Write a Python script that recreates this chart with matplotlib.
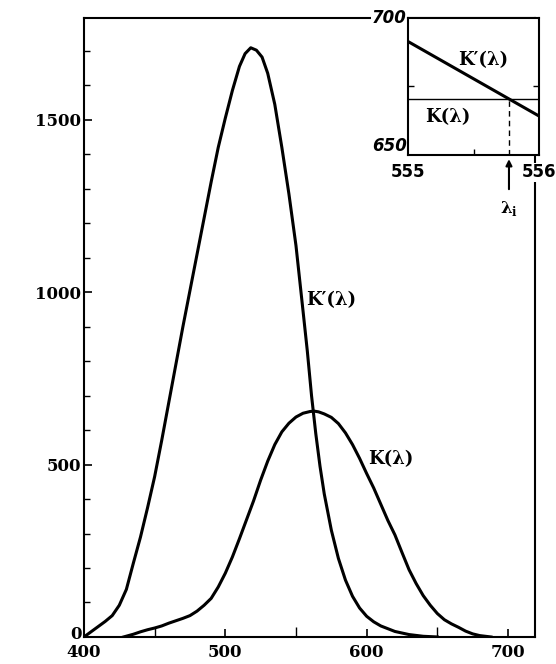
import matplotlib
matplotlib.use('Agg')
import matplotlib.pyplot as plt
from matplotlib.ticker import MultipleLocator, FixedLocator, FuncFormatter

# K'(lambda): scotopic curve
kp_wl = [400, 405, 410, 415, 420, 425, 430, 435, 440, 445, 450, 455, 460, 465,
         470, 475, 480, 485, 490, 495, 500, 505, 510, 514, 518, 522, 526, 530,
         535, 540, 545, 550, 555, 558, 561, 564, 567, 570, 575, 580, 585, 590,
         595, 600, 605, 610, 620, 630, 640, 650]
kp_val = [0, 15, 30, 45, 62, 92, 138, 215, 290, 375, 465, 570, 680, 790,
          900, 1005, 1110, 1215, 1320, 1420, 1505, 1585, 1655, 1692, 1709, 1702, 1682, 1635,
          1545, 1420, 1285, 1135, 945, 830, 700, 590, 495, 415, 310, 228, 165, 118,
          84, 60, 44, 32, 16, 7, 2, 0]

# K(lambda): photopic curve
k_wl = [428, 435, 440, 445, 450, 455, 460, 465, 470, 475, 480, 485, 490, 495,
        500, 505, 510, 515, 520, 525, 530, 535, 540, 545, 550, 555, 560, 563,
        566, 570, 575, 580, 585, 590, 595, 600, 605, 610, 615, 620, 625, 630,
        635, 640, 645, 650, 655, 660, 665, 670, 675, 680, 688]
k_val = [0, 8, 15, 21, 26, 32, 40, 47, 54, 62, 75, 92, 112, 145,
         185, 232, 285, 340, 395, 455, 510, 558, 595, 620, 638, 649, 654, 655,
         653, 647, 637, 619, 592, 558, 518, 474, 432, 385, 338, 296, 245, 195,
         155, 120, 92, 68, 50, 38, 28, 17, 9, 4, 0]

# inset (zoom 555..556 nm)
inset_wl = [555, 556]
inset_kp = [691.4, 664.2]
inset_k = [670.4, 670.4]
lambda_i = 555.77

serif = ['DejaVu Serif']

fig = plt.figure(figsize=(5.56, 6.64), dpi=100)
ax = fig.add_axes([0.151, 0.0407, 0.811, 0.932])

ax.plot(kp_wl, kp_val, color='black', lw=2.2, solid_joinstyle='round')
ax.plot(k_wl, k_val, color='black', lw=2.2, solid_joinstyle='round')

ax.set_xlim(400, 719)
ax.set_ylim(0, 1795)
ax.xaxis.set_major_locator(FixedLocator([400, 500, 600, 700]))
ax.xaxis.set_minor_locator(FixedLocator([450, 550, 650]))
ax.yaxis.set_major_locator(MultipleLocator(500))
ax.yaxis.set_minor_locator(MultipleLocator(100))
# "0" is drawn by hand below so it can sit a bit higher than "400"
ax.yaxis.set_major_formatter(FuncFormatter(lambda v, p: '' if v == 0 else '%d' % v))
ax.tick_params(which='both', direction='in', top=False, right=False)
ax.tick_params(which='major', length=6, width=1.2, pad=2)
ax.tick_params(which='minor', length=4, width=1.0)
ax.tick_params(axis='x', which='minor', length=7)
ax.tick_params(axis='x', which='major', pad=5)
for lab in ax.get_xticklabels() + ax.get_yticklabels():
    lab.set_family(serif)
    lab.set_fontsize(12)
    lab.set_fontweight('bold')
ax.text(-0.006, -0.004, '0', transform=ax.transAxes, family=serif, fontsize=12,
        fontweight='bold', ha='right', va='baseline')
for sp in ax.spines.values():
    sp.set_linewidth(1.5)

ax.text(557.5, 976, 'K′(λ)', family=serif, fontsize=13, fontweight='bold',
        ha='left', va='center')
ax.text(601, 515, 'K(λ)', family=serif, fontsize=13, fontweight='bold',
        ha='left', va='center')

# inset
axin = fig.add_axes([0.734, 0.7666, 0.2356, 0.2063])
axin.set_facecolor('white')
axin.plot(inset_wl, inset_kp, color='black', lw=2.2)
axin.plot(inset_wl, inset_k, color='black', lw=1.0)
axin.plot([lambda_i, lambda_i], [650, inset_k[0]], color='black', lw=1.0,
          ls=(0, (4, 3)))
axin.set_xlim(555, 556)
axin.set_ylim(650, 700)
axin.xaxis.set_major_locator(FixedLocator([555, 556]))
axin.xaxis.set_minor_locator(FixedLocator([555.5]))
axin.yaxis.set_major_locator(FixedLocator([650, 700]))
axin.yaxis.set_minor_locator(FixedLocator([675]))
axin.tick_params(which='both', direction='in', right=True, top=False)
axin.tick_params(which='major', length=0)
axin.tick_params(axis='y', pad=1)
axin.tick_params(axis='x', pad=6)
axin.tick_params(which='minor', length=4, width=1.0)
for lab in axin.get_xticklabels() + axin.get_yticklabels():
    lab.set_family(['DejaVu Sans'])
    lab.set_fontsize(12)
    lab.set_fontweight('bold')
    lab.set_bbox(dict(facecolor='white', edgecolor='none', pad=0.5))
for lab in axin.get_yticklabels():
    lab.set_fontstyle('italic')
    lab.set_verticalalignment('center')
axin.get_yticklabels()[0].set_verticalalignment('bottom')
for sp in axin.spines.values():
    sp.set_linewidth(1.5)

axin.text(555.57, 684.5, 'K′(λ)', family=serif, fontsize=13, fontweight='bold',
          ha='center', va='center')
axin.text(555.30, 664, 'K(λ)', family=serif, fontsize=13, fontweight='bold',
          ha='center', va='center')

axin.annotate('', xy=(lambda_i, 649.5), xytext=(lambda_i, 636.5),
              xycoords='data', annotation_clip=False,
              arrowprops=dict(arrowstyle='-|>', color='black', lw=1.5,
                              mutation_scale=9))
axin.text(lambda_i, 630.5, 'λ$_\\mathregular{i}$', family=serif, fontsize=12,
          fontweight='bold', ha='center', va='center', clip_on=False)

fig.savefig('out.png', dpi=100)
